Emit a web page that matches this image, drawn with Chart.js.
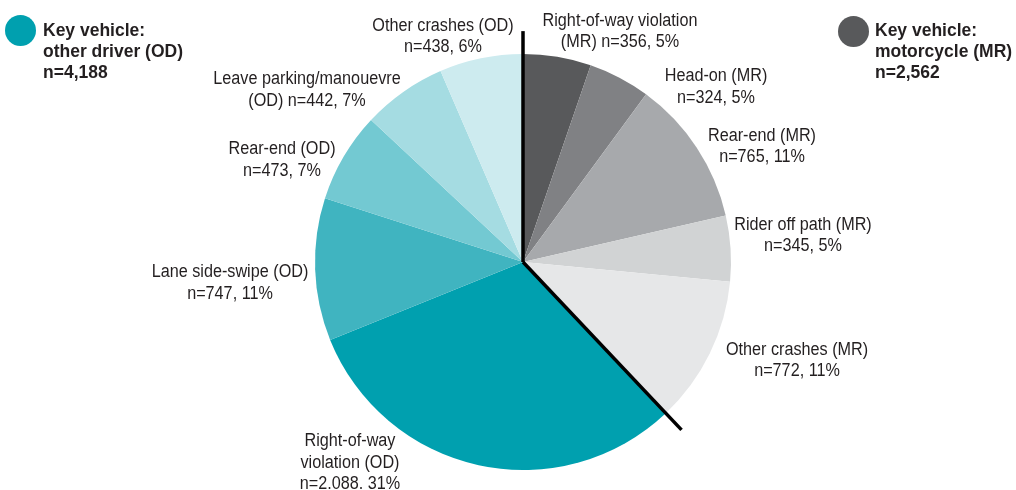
<!DOCTYPE html>
<html>
<head>
<meta charset="utf-8">
<script src="https://cdn.jsdelivr.net/npm/chart.js@4"></script>
<style>
  html, body { margin: 0; padding: 0; background: #fff; }
  #wrap { position: relative; width: 1016px; height: 490px; overflow: hidden; }
  canvas { position: absolute; left: 0; top: 0; }
  .lbl {
    position: absolute; transform: translate(-50%, -50%) scaleX(0.9);
    text-align: center; white-space: nowrap;
    font-family: "Liberation Sans", Arial, sans-serif;
    font-size: 18px; line-height: 21.5px; color: #231f20;
  }
  .key {
    position: absolute;
    font-family: "Liberation Sans", Arial, sans-serif;
    font-weight: bold; font-size: 17.5px; line-height: 21px; color: #231f20; white-space: nowrap;
  }
  .dot { position: absolute; width: 31px; height: 31px; border-radius: 50%; }
</style>
</head>
<body>
<div id="wrap">
  <canvas id="c" width="1016" height="490"></canvas>
  <div class="dot" style="left:5px;top:15px;background:#00a0af"></div>
  <div class="key" style="left:43px;top:20px">Key vehicle:<br>other driver (OD)<br>n=4,188</div>
  <div class="dot" style="left:838px;top:16px;background:#58595b"></div>
  <div class="key" style="left:875px;top:20px">Key vehicle:<br>motorcycle (MR)<br>n=2,562</div>
</div>
<script>
// ---- data ----
const categories = [
  "Right-of-way violation (MR)", "Head-on (MR)", "Rear-end (MR)", "Rider off path (MR)", "Other crashes (MR)",
  "Right-of-way violation (OD)", "Lane side-swipe (OD)", "Rear-end (OD)", "Leave parking/manouevre (OD)", "Other crashes (OD)"
];
const counts = [356, 324, 765, 345, 772, 2088, 747, 473, 442, 438];
const percents = [5, 5, 11, 5, 11, 31, 11, 7, 7, 6];
const mrSliceCount = 5;

// ---- styles ----
const colors = ["#58595b", "#808184", "#a7a9ac", "#d1d3d4", "#e6e7e8",
                "#00a0af", "#40b4c0", "#73c9d2", "#a5dce2", "#cdebef"];
// label text lines as printed in the figure
const labelLines = [
  ["Right-of-way violation", "(MR) n=356, 5%"],
  ["Head-on (MR)", "n=324, 5%"],
  ["Rear-end (MR)", "n=765, 11%"],
  ["Rider off path (MR)", "n=345, 5%"],
  ["Other crashes (MR)", "n=772, 11%"],
  ["Right-of-way", "violation (OD)", "n=2.088. 31%"],
  ["Lane side-swipe (OD)", "n=747, 11%"],
  ["Rear-end (OD)", "n=473, 7%"],
  ["Leave parking/manouevre", "(OD) n=442, 7%"],
  ["Other crashes (OD)", "n=438, 6%"]
];
// label block centres, in units of pie radius relative to pie centre
const labelOffsets = [
  [0.466, -1.111], [0.928, -0.846], [1.148, -0.56], [1.346, -0.13], [1.317, 0.471],
  [-0.832, 0.962], [-1.409, 0.098], [-1.159, -0.495], [-1.038, -0.83], [-0.385, -1.087]
];

const wrap = document.getElementById('wrap');
const labelEls = labelLines.map(lines => {
  const d = document.createElement('div');
  d.className = 'lbl';
  d.innerHTML = lines.join('<br>');
  wrap.appendChild(d);
  return d;
});

const dividerPlugin = {
  id: 'divider',
  afterDatasetsDraw(chart) {
    const meta = chart.getDatasetMeta(0);
    const arc0 = meta.data[0];
    const arcB = meta.data[mrSliceCount - 1];
    const cx = arc0.x, cy = arc0.y, r = arc0.outerRadius;
    const ctx = chart.ctx;
    ctx.save();
    ctx.strokeStyle = '#000';
    ctx.lineWidth = 3.5;
    ctx.lineCap = 'butt';
    [arc0.startAngle, arcB.endAngle].forEach(a => {
      ctx.beginPath();
      ctx.moveTo(cx, cy);
      ctx.lineTo(cx + Math.cos(a) * r * 1.11, cy + Math.sin(a) * r * 1.11);
      ctx.stroke();
    });
    ctx.restore();
    labelEls.forEach((el, i) => {
      el.style.left = (cx + labelOffsets[i][0] * r) + 'px';
      el.style.top = (cy + labelOffsets[i][1] * r) + 'px';
    });
  }
};

new Chart(document.getElementById('c'), {
  type: 'pie',
  data: {
    labels: categories,
    datasets: [{
      data: counts,
      backgroundColor: colors,
      borderWidth: 0
    }]
  },
  options: {
    responsive: false,
    animation: false,
    layout: { padding: { top: 54, bottom: 20, left: 30, right: 0 } },
    plugins: { legend: { display: false }, tooltip: { enabled: false } }
  },
  plugins: [dividerPlugin]
});
</script>
</body>
</html>
